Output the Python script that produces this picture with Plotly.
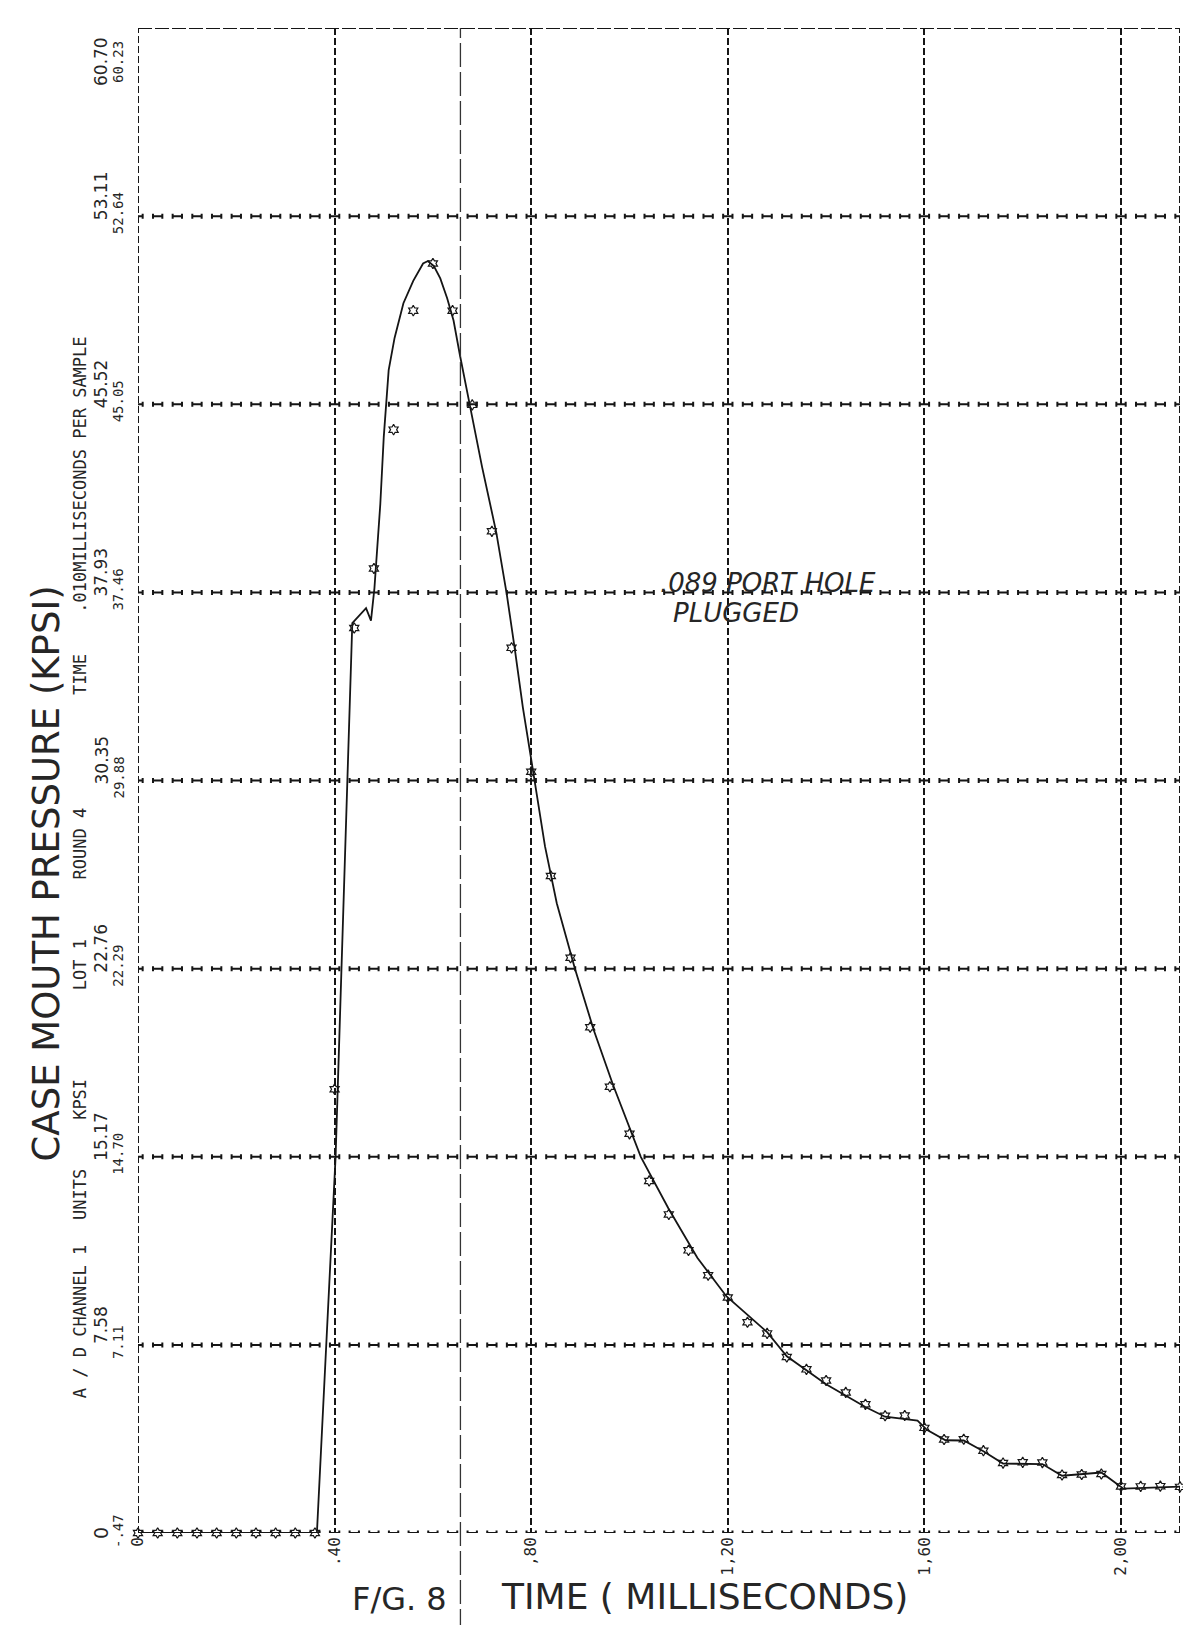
import numpy as np
import plotly.graph_objects as go

# ---------------- data ----------------
sample_time_ms = [0.00, 0.04, 0.08, 0.12, 0.16, 0.20, 0.24, 0.28, 0.32, 0.36,
                  0.40, 0.44, 0.48, 0.52, 0.56, 0.60, 0.64, 0.68, 0.72, 0.76,
                  0.80, 0.84, 0.88, 0.92, 0.96, 1.00, 1.04, 1.08, 1.12, 1.16,
                  1.20, 1.24, 1.28, 1.32, 1.36, 1.40, 1.44, 1.48, 1.52, 1.56,
                  1.60, 1.64, 1.68, 1.72, 1.76, 1.80, 1.84, 1.88, 1.92, 1.96,
                  2.00, 2.04, 2.08, 2.12]
sample_kpsi = [0, 0, 0, 0, 0, 0, 0, 0, 0, 0,
               17.9, 36.5, 38.9, 44.5, 49.3, 51.2, 49.3, 45.5, 40.4, 35.7,
               30.7, 26.5, 23.2, 20.4, 18.0, 16.1, 14.2, 12.85, 11.4, 10.4,
               9.5, 8.5, 8.05, 7.1, 6.6, 6.15, 5.67, 5.19, 4.73, 4.74,
               4.24, 3.77, 3.78, 3.32, 2.82, 2.85, 2.84, 2.34, 2.36, 2.38,
               1.88, 1.88, 1.89, 1.86]

curve_time_ms = [0.00, 0.364, 0.402, 0.427, 0.436, 0.464, 0.474, 0.481, 0.493, 0.500,
                 0.505, 0.510, 0.522, 0.540, 0.560, 0.580, 0.590, 0.602, 0.615, 0.629,
                 0.642, 0.648, 0.655, 0.675, 0.700, 0.729, 0.750, 0.767, 0.783, 0.800,
                 0.807, 0.828, 0.852, 0.889, 0.927, 0.966, 1.023, 1.079, 1.138, 1.197,
                 1.280, 1.320, 1.400, 1.480, 1.520, 1.586, 1.605, 1.643, 1.680, 1.720,
                 1.760, 1.840, 1.880, 1.960, 1.994, 2.005, 2.120]
curve_kpsi = [0.0, 0.0, 15.17, 30.35, 36.7, 37.3, 36.8, 38.1, 41.5, 44.2,
              45.5, 46.9, 48.2, 49.6, 50.5, 51.2, 51.3, 51.1, 50.6, 49.8,
              48.9, 48.2, 47.5, 45.5, 43.0, 40.35, 37.9, 35.6, 33.3, 31.2,
              30.35, 27.7, 25.4, 22.76, 20.3, 18.1, 15.17, 13.1, 11.1, 9.55,
              8.1, 7.13, 6.0, 5.08, 4.69, 4.53, 4.16, 3.74, 3.73, 3.30,
              2.80, 2.78, 2.31, 2.44, 1.95, 1.79, 1.87]

kpsi_grid = [0, 7.58, 15.17, 22.76, 30.35, 37.93, 45.52, 53.11, 60.70]
kpsi_hand_labels = ["0", "7.58", "15.17", "22.76", "30.35", "37.93", "45.52", "53.11", "60.70"]
kpsi_print_labels = ["-.47", "7.11", "14.70", "22.29", "29.88", "37.46", "45.05", "52.64", "60.23"]

time_ticks = [0, 0.4, 0.8, 1.2, 1.6, 2.0]
time_tick_labels = ["0", ".40", ",80", "1,20", "1,60", "2,00"]

header_texts = ["A / D CHANNEL 1", "UNITS", "KPSI", "LOT 1", "ROUND 4", "TIME",
                ".010MILLISECONDS PER SAMPLE"]
header_kpsi = [8.54, 13.63, 17.47, 22.9, 27.81, 34.61, 42.68]

X_MAX = 2.12
Y_MAX = 60.70
INK = "#151515"
TXT = "#262626"

fig = go.Figure()

# horizontal grid lines drawn as rows of printer "I" characters (rotated)
i_x = np.round(np.arange(0, X_MAX + 1e-6, 0.04), 2)
gx, gy = [], []
for v in kpsi_grid[:-1]:
    gx.extend(i_x.tolist())
    gy.extend([v] * len(i_x))
fig.add_trace(go.Scatter(
    x=gx, y=gy, mode="markers",
    marker=dict(size=1, color="rgba(0,0,0,0)"),
    error_x=dict(type="constant", value=0.0095, color=INK, thickness=2, width=2.5),
    hoverinfo="skip", showlegend=False, cliponaxis=False))

# measured pressure curve
fig.add_trace(go.Scatter(
    x=curve_time_ms, y=curve_kpsi, mode="lines",
    line=dict(color=INK, width=1.8), showlegend=False, cliponaxis=False))

# samples
fig.add_trace(go.Scatter(
    x=sample_time_ms, y=sample_kpsi, mode="markers",
    marker=dict(symbol="hexagram-open", size=8, color=INK, line=dict(width=1.2, color=INK)),
    showlegend=False, cliponaxis=False))

shapes = []
# plot borders (left / right dashed, top long dashes)
for xv in (0, X_MAX):
    shapes.append(dict(type="line", xref="x", yref="paper", x0=xv, x1=xv, y0=0, y1=1,
                       line=dict(color=INK, width=2, dash="7px,3px")))
shapes.append(dict(type="line", xref="paper", yref="y", x0=0, x1=1, y0=Y_MAX, y1=Y_MAX,
                   line=dict(color=INK, width=2, dash="14px,3px")))
# long-dash vertical reference line
shapes.append(dict(type="line", xref="x", yref="paper", x0=0.656, x1=0.656, y0=-0.0665, y1=1,
                   line=dict(color="#333333", width=1.3, dash="24px,5px")))

ann = []
print_font = dict(family="DejaVu Sans Mono", size=14, color=TXT)
n = len(kpsi_grid)
for i, (v, hl, pl) in enumerate(zip(kpsi_grid, kpsi_hand_labels, kpsi_print_labels)):
    if i == 0:
        ys_h, ys_p = 0, 2
    elif i == n - 1:
        ys_h, ys_p = -34, -34
    else:
        ys_h, ys_p = 20, 3
    ann.append(dict(x=0, xref="paper", y=v, yref="y", text=hl, showarrow=False,
                    textangle=-90, xanchor="center", yanchor="middle",
                    xshift=-37, yshift=ys_h,
                    font=dict(family="DejaVu Sans", size=19 if i == 0 else 17, color=TXT)))
    ann.append(dict(x=0, xref="paper", y=v, yref="y", text=pl, showarrow=False,
                    textangle=-90, xanchor="center", yanchor="middle",
                    xshift=-20, yshift=ys_p, font=print_font))

head_font = dict(family="DejaVu Sans Mono", size=17, color=TXT)
for txt, v in zip(header_texts, header_kpsi):
    ann.append(dict(x=0, xref="paper", y=v, yref="y", text=txt, showarrow=False,
                    textangle=-90, xanchor="center", yanchor="middle", xshift=-58,
                    font=head_font))

# axis titles (hand lettered)
ann.append(dict(x=0, xref="paper", y=26.6, yref="y", text="CASE MOUTH PRESSURE (KPSI)",
                showarrow=False, textangle=-90, xanchor="center", yanchor="middle",
                xshift=-92, font=dict(family="DejaVu Sans", size=37, color=TXT)))
ann.append(dict(x=0.2505, xref="paper", y=-0.0439, yref="paper", text="F/G. 8",
                showarrow=False, xanchor="center", yanchor="middle",
                font=dict(family="DejaVu Sans", size=32, color=TXT)))
ann.append(dict(x=0.5441, xref="paper", y=-0.0419, yref="paper", text="TIME ( MILLISECONDS)",
                showarrow=False, xanchor="center", yanchor="middle",
                font=dict(family="DejaVu Sans", size=36, color=TXT)))

# hand written note
ann.append(dict(x=1.058, xref="x", y=38.3, yref="y", text=".089 PORT HOLE",
                showarrow=False, xanchor="left", yanchor="middle",
                font=dict(family="DejaVu Sans", size=26, color=TXT, style="italic")))
ann.append(dict(x=1.084, xref="x", y=37.1, yref="y", text="PLUGGED",
                showarrow=False, xanchor="left", yanchor="middle",
                font=dict(family="DejaVu Sans", size=26, color=TXT, style="italic")))

fig.update_layout(
    width=1191, height=1625,
    margin=dict(l=130, r=19, t=20, b=100),
    paper_bgcolor="white", plot_bgcolor="white",
    shapes=shapes, annotations=ann,
    xaxis=dict(range=[0, X_MAX], tickvals=time_ticks, ticktext=time_tick_labels,
               tickangle=-90, showgrid=True, gridcolor=INK, gridwidth=2,
               griddash="7px,3px", zeroline=False, showline=False, ticks="",
               tickfont=dict(family="DejaVu Sans Mono", size=16, color=TXT)),
    yaxis=dict(range=[0, Y_MAX], showgrid=False, showticklabels=False,
               zeroline=False, showline=False, ticks=""),
)

fig.write_html("out.html")
